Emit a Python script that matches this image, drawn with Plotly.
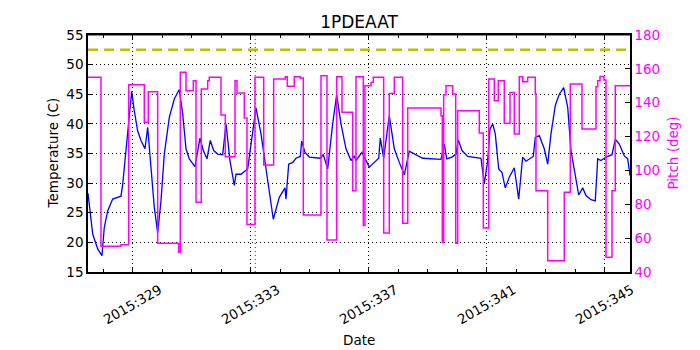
import plotly.graph_objects as go

# ---- data ----
temp_day = [327.475, 327.634, 327.803, 327.949, 328.027, 328.142, 328.312, 328.593, 328.651, 328.820,
            328.956, 329.044, 329.159, 329.271, 329.407, 329.498, 329.610, 329.722, 329.837, 329.949,
            330.061, 330.231, 330.400, 330.569, 330.685, 330.797, 330.908, 331.102, 331.271, 331.383,
            331.508, 331.620, 331.736, 331.871, 332.041, 332.153, 332.288, 332.434, 332.492, 332.661,
            332.888, 333.000, 333.169, 333.339, 333.508, 333.756, 333.959, 334.153, 334.186, 334.278,
            334.414, 334.525, 334.671, 334.719, 334.831, 334.976, 335.339, 335.451, 335.600, 335.769,
            335.905, 336.051, 336.220, 336.390, 336.502, 336.559, 336.763, 336.841, 337.010, 337.180,
            337.329, 337.383, 337.498, 337.688, 337.858, 338.027, 338.197, 338.366, 338.536, 338.820,
            339.441, 339.553, 339.634, 339.814, 339.949, 340.027, 340.153, 340.346, 340.797, 340.908,
            341.024, 341.102, 341.193, 341.281, 341.397, 341.508, 341.620, 341.756, 341.925, 342.075,
            342.210, 342.322, 342.569, 342.637, 342.773, 342.942, 343.058, 343.169, 343.315, 343.451,
            343.600, 343.736, 343.847, 343.959, 344.108, 344.244, 344.356, 344.525, 344.671, 344.753,
            344.864, 345.034, 345.237, 345.349, 345.485, 345.654, 345.770, 345.848]
temp_val = [28.3, 21.4, 18.9, 17.75, 22.5, 25.3, 27.3, 27.8, 29.8, 38.3,
            45.5, 42.2, 38.8, 37.2, 35.8, 39.4, 32.7, 25.9, 21.6, 27.0,
            34.9, 41.1, 44.2, 45.8, 41.7, 35.8, 34.1, 32.8, 37.6, 35.5,
            34.1, 37.2, 35.5, 34.9, 34.8, 40.0, 33.8, 29.6, 31.5, 31.5,
            32.4, 36.6, 42.7, 38.3, 32.7, 23.9, 27.6, 29.2, 27.3, 33.2,
            33.5, 34.2, 34.5, 37.1, 35.2, 34.4, 34.2, 34.8, 32.4, 40.0,
            44.9, 40.0, 35.8, 33.8, 34.6, 33.8, 35.2, 34.4, 32.7, 33.5,
            34.2, 37.6, 34.2, 41.4, 35.8, 33.5, 31.4, 35.4, 34.9, 34.2,
            34.0, 36.6, 34.1, 34.4, 34.9, 37.3, 35.5, 34.5, 34.2, 29.9,
            33.8, 39.1, 40.0, 38.3, 32.4, 31.8, 29.2, 31.0, 32.6, 27.3,
            34.4, 33.7, 34.5, 37.7, 38.0, 35.8, 33.2, 38.3, 43.1, 45.0,
            46.1, 42.8, 35.5, 32.1, 28.0, 29.2, 27.9, 27.2, 27.0, 34.1,
            33.8, 34.4, 34.8, 37.4, 36.6, 34.6, 34.1, 31.3]

pitch_day = [327.475, 327.915, 328.593, 328.854, 329.383, 329.519, 329.837, 330.549, 330.603, 330.797,
             331.044, 331.136, 331.315, 331.532, 331.586, 331.983, 332.129, 332.458, 332.525, 332.773,
             332.864, 333.136, 333.431, 333.769, 334.163, 334.231, 334.468, 334.671, 334.773, 335.373,
             335.576, 335.905, 336.085, 336.447, 336.559, 336.807, 336.864, 337.068, 337.146, 337.498,
             337.688, 337.858, 338.142, 338.312, 339.441, 339.485, 339.532, 339.610, 339.837, 339.939,
             340.007, 340.739, 340.875, 341.058, 341.248, 341.383, 341.586, 341.780, 341.925, 342.095,
             342.210, 342.380, 342.637, 342.661, 343.058, 343.620, 343.824, 344.220, 344.695, 344.753,
             344.831, 344.966, 345.034, 345.237, 345.349, 345.736, 345.848]
pitch_val = [155.0, 55.2, 56.1, 150.6, 128.4, 146.5, 57.0, 51.6, 158.0, 147.1,
             153.0, 81.2, 148.1, 153.0, 155.0, 132.7, 108.1, 153.0, 145.7, 131.0,
             68.0, 155.0, 103.2, 154.0, 155.4, 149.7, 155.4, 154.6, 73.7, 156.0,
             58.9, 155.4, 134.3, 88.0, 155.4, 67.4, 150.0, 152.0, 155.0, 63.0,
             145.5, 155.0, 68.8, 136.9, 132.3, 57.5, 144.7, 150.0, 145.1, 57.0,
             135.3, 122.1, 66.0, 154.0, 141.2, 153.0, 127.8, 146.1, 121.5, 155.4,
             152.4, 155.0, 145.1, 88.0, 46.7, 87.1, 151.0, 124.5, 149.5, 153.0,
             155.5, 153.4, 48.7, 88.0, 150.0, 150.0, 150.0]

limit_temp = 52.5
top_limit = 55.0
marker_day = 333.146

x_ticks = [329, 333, 337, 341, 345]
x_tick_labels = ["2015:329", "2015:333", "2015:337", "2015:341", "2015:345"]
x_minor = list(range(328, 346))
x_range = [327.475, 345.848]

FONT = "DejaVu Sans"
FS = 13.5
GRID_DASH = "1px,3px"
MAGENTA = "#ff00ff"

# page body has an 8px margin, so the figure is offset by 8px inside the window
W, H = 684, 342
L, R, T, B = 80, 62, 27, 78
plot_h = H - T - B

fig = go.Figure()

fig.add_trace(go.Scatter(x=x_range, y=[top_limit, top_limit], mode="lines",
                         line=dict(color="#9a9a00", width=2), yaxis="y", showlegend=False,
                         hoverinfo="skip"))
fig.add_trace(go.Scatter(x=x_range, y=[limit_temp, limit_temp], mode="lines",
                         line=dict(color="#bfbf00", width=2.5, dash="10px,6px"), yaxis="y",
                         showlegend=False, hoverinfo="skip"))
fig.add_trace(go.Scatter(x=[marker_day, marker_day], y=[15, 55], mode="lines",
                         line=dict(color="#00a000", width=1.2, dash="1px,3px"), yaxis="y",
                         showlegend=False, hoverinfo="skip"))
fig.add_trace(go.Scatter(x=pitch_day, y=pitch_val, mode="lines", line_shape="hv",
                         line=dict(color=MAGENTA, width=1.5), yaxis="y2", showlegend=False))
fig.add_trace(go.Scatter(x=temp_day, y=temp_val, mode="lines",
                         line=dict(color="#0000ff", width=1.3), yaxis="y", showlegend=False))

annotations = []
for tv, tl in zip(x_ticks, x_tick_labels):
    annotations.append(dict(x=tv, xref="x", y=-32 / plot_h, yref="paper", text=tl,
                            textangle=-30, showarrow=False, xanchor="center", yanchor="middle",
                            font=dict(size=FS, family=FONT, color="black")))
annotations.append(dict(x=0.5, xref="paper", y=-68 / plot_h, yref="paper", text="Date",
                        showarrow=False, xanchor="center", yanchor="middle",
                        font=dict(size=FS, family=FONT, color="black")))
annotations.append(dict(x=-36 / 542, xref="paper", y=0.5, yref="paper", text="Temperature (C)",
                        textangle=-90, showarrow=False, xanchor="center", yanchor="middle",
                        font=dict(size=FS, family=FONT, color="black")))
annotations.append(dict(x=1 + 42 / 542, xref="paper", y=0.5, yref="paper", text="Pitch (deg)",
                        textangle=-90, showarrow=False, xanchor="center", yanchor="middle",
                        font=dict(size=FS, family=FONT, color=MAGENTA)))

fig.update_layout(
    width=W, height=H,
    margin=dict(l=L, r=R, t=T, b=B),
    paper_bgcolor="white", plot_bgcolor="white",
    font=dict(family=FONT, size=FS, color="black"),
    title=dict(text="1PDEAAT", font=dict(size=17, family=FONT), xref="paper", x=0.5,
               xanchor="center", yref="container", y=1 - 14 / H, yanchor="middle"),
    annotations=annotations,
    xaxis=dict(range=x_range, tickmode="array", tickvals=x_ticks, showticklabels=False,
               ticks="inside", ticklen=5, tickcolor="black",
               showline=True, linecolor="black", linewidth=1.5, mirror="ticks",
               showgrid=True, gridcolor="black", griddash=GRID_DASH, gridwidth=1,
               minor=dict(tickmode="array", tickvals=x_minor, ticks="inside", ticklen=3,
                          tickcolor="black", showgrid=False),
               automargin=False, zeroline=False),
    yaxis=dict(range=[15, 55], dtick=5, tick0=15, ticks="inside", ticklen=5, tickcolor="black",
               showline=True, linecolor="black", linewidth=1.5, mirror=True,
               showgrid=True, gridcolor="black", griddash=GRID_DASH, gridwidth=1,
               automargin=False, zeroline=False, tickfont=dict(size=FS)),
    yaxis2=dict(range=[40, 180], dtick=20, tick0=40, overlaying="y", side="right",
                ticks="inside", ticklen=5, tickcolor="black",
                showline=True, linecolor="black", linewidth=1.5, showgrid=False,
                tickfont=dict(size=FS, color=MAGENTA),
                automargin=False, zeroline=False),
)

fig.write_html("out.html")
